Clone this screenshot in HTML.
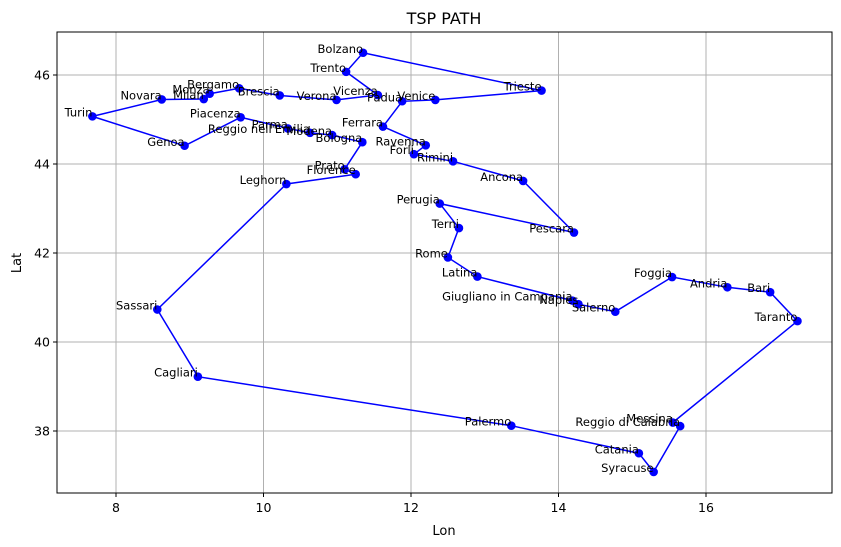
<!DOCTYPE html>
<html><head><meta charset="utf-8"><style>
html,body{margin:0;padding:0;background:#fff;}
svg{display:block;font-family:"DejaVu Sans","Liberation Sans",sans-serif;}
</style></head><body>
<svg id="chart" width="841" height="547" viewBox="0 0 841 547">
<text x="444" y="24" font-size="16" text-anchor="middle">TSP PATH</text>
<text x="444" y="535" font-size="13" text-anchor="middle">Lon</text>
<text x="21" y="263" font-size="13" text-anchor="middle" transform="rotate(-90 21 263)">Lat</text>
<g id="grid"></g><g id="ticks"></g><g id="path"></g><g id="pts"></g><g id="labels"></g>
<rect x="57" y="32" width="775" height="461" fill="none" stroke="#000" stroke-width="1"/>
</svg>
<script>
const cities = ["Turin","Novara","Milan","Monza","Bergamo","Brescia","Verona","Vicenza","Trento","Bolzano","Trieste","Venice","Padua","Ferrara","Ravenna","Forli","Rimini","Ancona","Pescara","Perugia","Terni","Rome","Latina","Giugliano in Campania","Naples","Salerno","Foggia","Andria","Bari","Taranto","Messina","Reggio di Calabria","Syracuse","Catania","Palermo","Cagliari","Sassari","Leghorn","Florence","Prato","Bologna","Modena","Reggio nell'Emilia","Parma","Piacenza","Genoa"];
const lons = [7.68,8.62,9.19,9.27,9.67,10.22,10.99,11.55,11.12,11.35,13.77,12.33,11.88,11.62,12.20,12.04,12.57,13.52,14.21,12.39,12.65,12.50,12.90,14.19,14.27,14.77,15.54,16.29,16.87,17.24,15.55,15.65,15.29,15.09,13.36,9.11,8.56,10.31,11.25,11.10,11.34,10.93,10.63,10.33,9.69,8.93];
const lats = [45.07,45.45,45.46,45.58,45.70,45.54,45.44,45.55,46.07,46.50,45.65,45.44,45.41,44.84,44.42,44.22,44.06,43.62,42.46,43.11,42.56,41.90,41.47,40.93,40.85,40.68,41.46,41.23,41.12,40.47,38.19,38.11,37.08,37.50,38.12,39.22,40.73,43.55,43.77,43.88,44.49,44.65,44.70,44.80,45.05,44.41];
const xTicks = [8,10,12,14,16];
const yTicks = [38,40,42,44,46];
const NS="http://www.w3.org/2000/svg";
const X = v => 116 + (v-8)*73.75;
const Y = v => 75 + (46-v)*44.5;
function mk(tag, attrs, parent){const e=document.createElementNS(NS,tag);for(const k in attrs)e.setAttribute(k,attrs[k]);document.getElementById(parent).appendChild(e);return e;}
xTicks.forEach(t=>{
  const g=mk("line",{x1:X(t),x2:X(t),y1:32,y2:493,stroke:"#b0b0b0","stroke-width":1},"grid");
  
  
  mk("line",{x1:X(t),x2:X(t),y1:493,y2:497,stroke:"#000"},"ticks");
  const l=mk("text",{x:X(t),y:512,"font-size":12.5,"text-anchor":"middle"},"ticks");
  l.textContent=t;
  
  
});
yTicks.forEach(t=>{
  const g=mk("line",{x1:57,x2:832,y1:Y(t),y2:Y(t),stroke:"#b0b0b0","stroke-width":1},"grid");
  
  
  mk("line",{x1:53,x2:57,y1:Y(t),y2:Y(t),stroke:"#000"},"ticks");
  const l=mk("text",{x:50,y:Y(t)+4.5,"font-size":12.5,"text-anchor":"end"},"ticks");
  l.textContent=t;
  
  
});
let d="";
for(let i=0;i<=cities.length;i++){const j=i%cities.length;d+=(i?"L":"M")+X(lons[j]).toFixed(1)+","+Y(lats[j]).toFixed(1);}
const p=mk("path",{d:d,fill:"none",stroke:"#0000ff","stroke-width":1.5},"path");


cities.forEach((c,i)=>{
  const pt=mk("circle",{cx:X(lons[i]),cy:Y(lats[i]),r:4.3,fill:"#0000ff"},"pts");
  
  
  const t=mk("text",{x:X(lons[i]),y:Y(lats[i]),"font-size":11.5,"text-anchor":"end"},"labels");
  t.textContent=c;
  
  
});
</script>
</body></html>
